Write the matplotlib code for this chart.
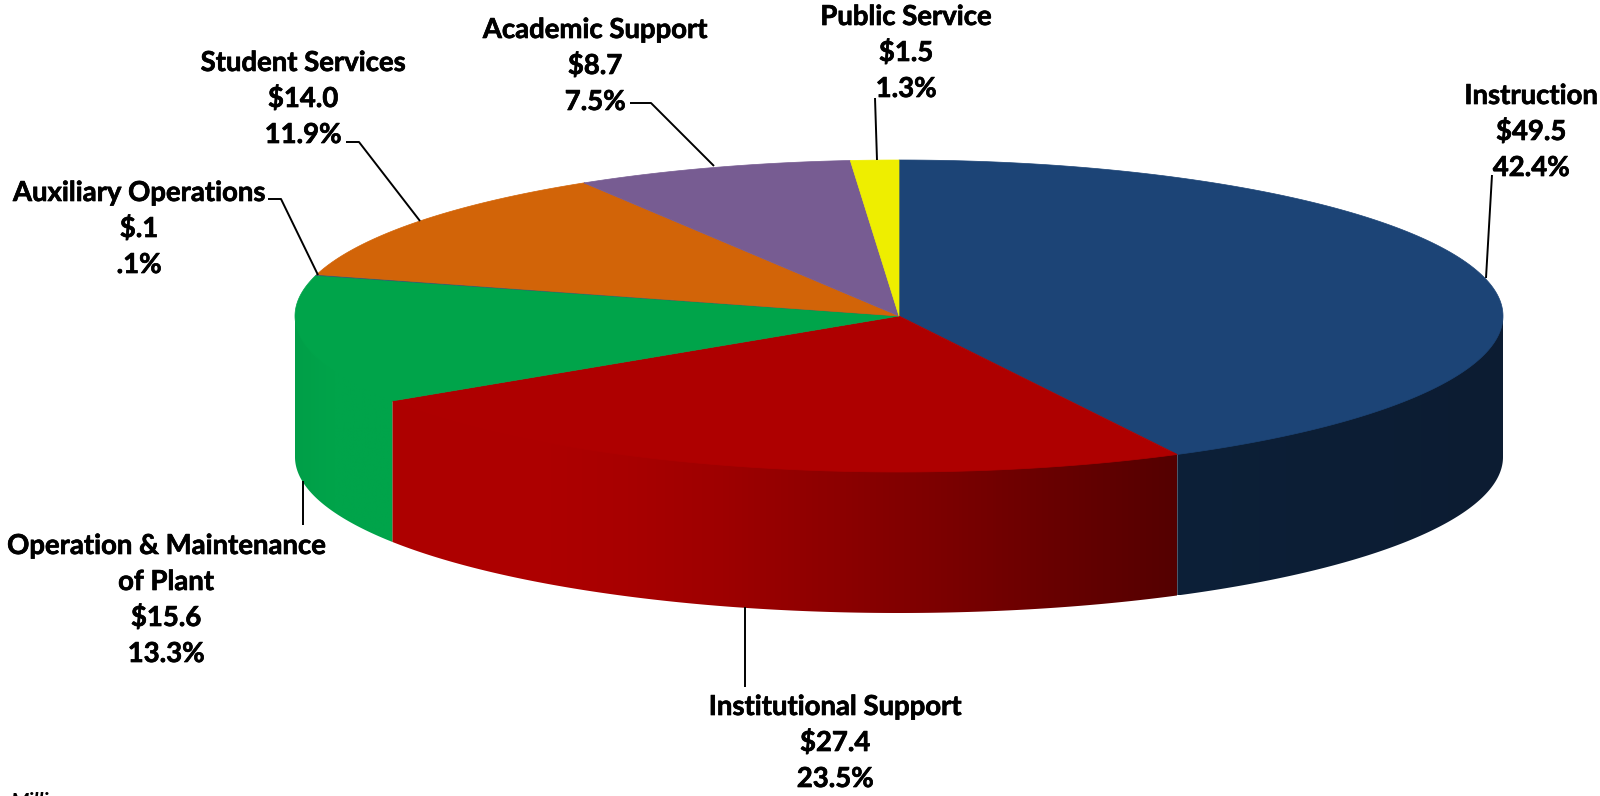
import numpy as np
import matplotlib
matplotlib.use('Agg')
import matplotlib.pyplot as plt
import matplotlib.patheffects as pe
from matplotlib.colors import LinearSegmentedColormap
from matplotlib.patches import Polygon

categories = ['Instruction', 'Institutional Support', 'Operation & Maintenance\nof Plant',
              'Auxiliary Operations', 'Student Services', 'Academic Support', 'Public Service']
values = [49.5, 27.4, 15.6, 0.1, 14.0, 8.7, 1.5]
shares = [42.4, 23.5, 13.3, 0.1, 11.9, 7.5, 1.3]
top_colors = ['#1C4476', '#AE0000', '#00A44A', '#34586E', '#D26408', '#775C92', '#EEEE00']

# colour stops of the visible rim, left to right across each slice
rim_colors = {
    0: [(0, '#0D2038'), (1, '#0C1C32')],
    1: [(0, '#AE0000'), (.2, '#AD0000'), (.3, '#A80000'), (.42, '#9E0000'), (.57, '#8C0000'),
        (.7, '#7C0000'), (.83, '#6A0000'), (1, '#540000')],
    2: [(0, '#009F48'), (.4, '#00A44A'), (1, '#00A44A')],
}

# label centre x, baseline of first line, leader line
label_x = [1531, 835, 166, 139, 303, 595, 906]
label_y = [104, 715, 554, 201, 71, 38, 25]
leaders = [
    [(1492, 175), (1486, 278)],
    [(745, 607), (745, 687)],
    [(303, 481), (303, 525)],
    [(268, 199), (281, 199), (318, 275)],
    [(346, 142), (359, 142), (420, 221)],
    [(630, 103), (651, 103), (714, 166)],
    [(875, 98), (877, 160)],
]

cx, cy, rx, ry, depth = 899, 316, 604, 156, 141
line_step = 36

plt.rcParams['font.family'] = ['Lato', 'DejaVu Sans']

fig = plt.figure(figsize=(16, 7.96), dpi=100)
ax = fig.add_axes([0, 0, 1, 1])
ax.set_xlim(0, 1600)
ax.set_ylim(796, 0)
ax.axis('off')


def edge(t):
    # t is measured clockwise from 12 o'clock
    return cx + rx * np.sin(t), cy - ry * np.cos(t)


def money(v):
    s = '%.1f' % v
    return '$' + (s[1:] if s.startswith('0') else s)


def pct(v):
    s = '%.1f' % v
    return (s[1:] if s.startswith('0') else s) + '%'


ends = np.cumsum(values) / np.sum(values) * 2 * np.pi
starts = np.r_[0, ends[:-1]]

# rim first, the top face goes over it
for i, (a, b) in enumerate(zip(starts, ends)):
    lo, hi = max(a, np.pi / 2), min(b, 3 * np.pi / 2)
    if lo >= hi:
        continue
    t = np.linspace(lo, hi, 200)
    x, y = edge(t)
    # start the rim a little above the top edge so no white shows through the seam
    pts = np.r_[np.c_[x, y - 3], np.c_[x[::-1], y[::-1] + depth]]
    poly = Polygon(pts, closed=True, fc='none', ec='none', transform=ax.transData)
    ax.add_patch(poly)
    cmap = LinearSegmentedColormap.from_list('rim%d' % i, rim_colors[i])
    im = ax.imshow(np.linspace(0, 1, 256)[None, :], cmap=cmap, aspect='auto',
                   extent=(x.min(), x.max(), y.max() + depth, y.min() - 3), zorder=1)
    im.set_clip_path(poly)

ax.set_xlim(0, 1600)
ax.set_ylim(796, 0)

for a, b, c in zip(starts, ends, top_colors):
    t = np.linspace(a, b, 200)
    x, y = edge(t)
    ax.fill(np.r_[cx, x], np.r_[cy, y], fc=c, ec=c, lw=0.5, zorder=2)

for pts in leaders:
    xs, ys = zip(*pts)
    ax.plot(xs, ys, color='black', lw=1.4, zorder=3, solid_capstyle='butt')

# Lato bold is a bit light at this size, thicken it slightly
thicker = [pe.withStroke(linewidth=0.5, foreground='black')]
for name, v, p, lx, ly in zip(categories, values, shares, label_x, label_y):
    lines = name.split('\n') + [money(v), pct(p)]
    for k, line in enumerate(lines):
        ax.text(lx, ly + k * line_step, line, ha='center', va='baseline', fontsize=19.8,
                fontweight='bold', color='black', zorder=4, path_effects=thicker)

ax.text(10, 792, 'Millions', ha='left', va='top', fontsize=15, fontstyle='italic',
        fontweight='bold', color='black')

fig.savefig('out.png', dpi=100)
